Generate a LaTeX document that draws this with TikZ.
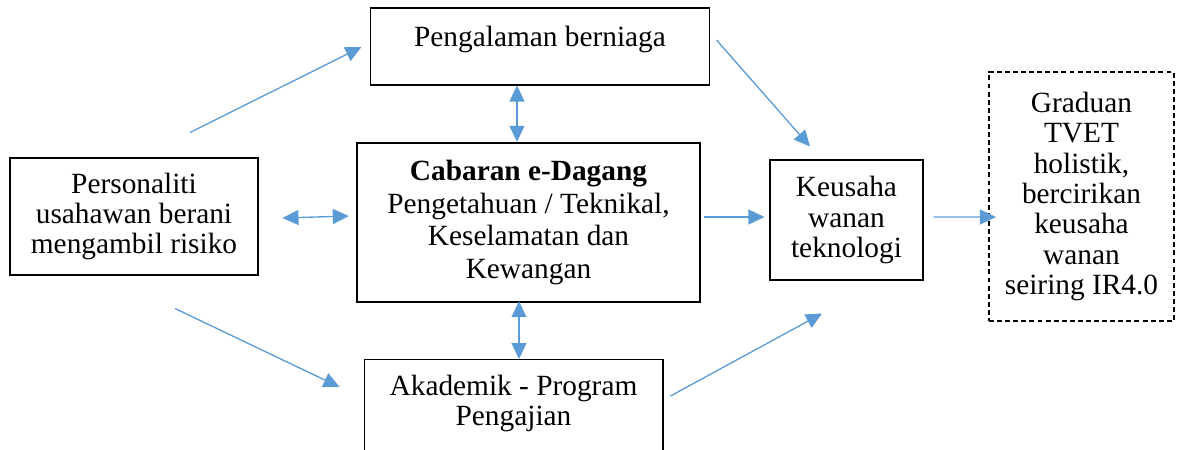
\documentclass[tikz,border=0pt]{standalone}
\usepackage{fontspec}
\setmainfont{Liberation Serif}
\usetikzlibrary{arrows.meta, calc}
\definecolor{arrowblue}{RGB}{91,155,213}

\begin{document}
\begin{tikzpicture}[x=0.02cm, y=-0.02cm,
    box/.style={draw, line width=0.6pt, align=center, inner sep=0pt,
        font=\fontsize{16.7}{17.3}\selectfont},
    arr/.style={-{Triangle[length=0.32cm, width=0.3cm]}, color=arrowblue, line width=0.75pt},
    dbl/.style={{Triangle[length=0.32cm, width=0.3cm]}-{Triangle[length=0.32cm, width=0.3cm]},
        color=arrowblue, line width=0.75pt}]
    \useasboundingbox (0,0) rectangle (1178,450);
    \clip (0,0) rectangle (1178,450);

    % boxes
    \node[box, minimum width=6.8cm, text height=0.76cm, text depth=0.78cm] (exper) at (540,46.5) {Pengalaman berniaga};
    \node[box, minimum width=4.96cm, minimum height=2.34cm] (person) at (134,216.5) {Personaliti\\usahawan berani\\mengambil risiko};
    \node[box, line width=1.4pt, minimum width=6.86cm, minimum height=3.18cm,
        font=\fontsize{16.7}{18.7}\selectfont] (challenge) at (528.5,222.5)
        {\textbf{Cabaran e-Dagang}\\Pengetahuan / Teknikal,\\Keselamatan dan\\Kewangan};
    \node[box, minimum width=3.06cm, minimum height=2.4cm] (tech) at (846.5,220) {Keusaha\\wanan\\teknologi};
    \node[box, dash pattern=on 2.8pt off 1.8pt, line width=1.2pt, minimum width=3.7cm,
        minimum height=4.98cm] (grad) at (1081.5,196.5)
        {Graduan\\TVET\\holistik,\\bercirikan\\keusaha\\wanan\\seiring IR4.0};
    \node[box, anchor=north, minimum width=5.98cm, text height=1.32cm, text depth=2cm] (acad) at (513.5,359) {Akademik - Program\\Pengajian};

    % connectors
    \draw[arr] ($(person.north)+(56,-25)$) -- ($(exper.west)+(-8,0.5)$);
    \draw[arr] ($(exper.east)+(6,-6.5)$) -- ($(tech.north)+(-36.5,-13)$);
    \draw[dbl] ($(exper.south)+(-23,0)$) coordinate (u) -- (u |- challenge.north);
    \draw[dbl] ($(person.east)+(24,1.5)$) -- ($(challenge.west)+(-7,-6.5)$);
    \draw[arr] ($(challenge.east)+(3,-5.5)$) -- ($(tech.west)+(-5,-3)$);
    \draw[arr] ($(tech.east)+(10,-3)$) -- ($(grad.west)+(8,20.5)$);
    \draw[dbl] ($(challenge.south)+(-9.5,-2)$) coordinate (d) -- (d |- acad.north);
    \draw[arr] ($(person.south)+(41,33)$) -- ($(acad.north west)+(-24,28)$);
    \draw[arr] ($(acad.north east)+(7,37)$) -- ($(tech.south)+(-24.5,33)$);
\end{tikzpicture}
\end{document}
